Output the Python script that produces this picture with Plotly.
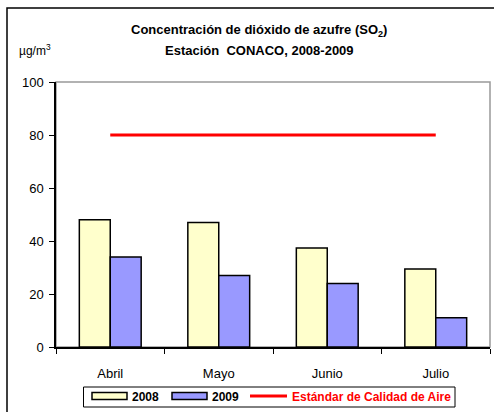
import plotly.graph_objects as go

categories = ["Abril", "Mayo", "Junio", "Julio"]
values_2008 = [48, 47, 37.4, 29.4]
values_2009 = [34, 27, 24, 11]
standard = [80, 80, 80, 80]
yticks = [0, 20, 40, 60, 80, 100]
legend_labels = ["2008", "2009", "Estándar de Calidad de Aire"]

W, H = 494, 412
L, R, T, B = 56, 4, 82, 65
pw, ph = W - L - R, H - T - B

def px(x):
    return (x - L) / pw

def py(y):
    return (H - B - y) / ph

C08, C09, CRED = "#FFFFCC", "#9999FF", "#FF0000"

fig = go.Figure()
fig.add_trace(go.Bar(x=categories, y=values_2008, name=legend_labels[0],
                     marker=dict(color=C08, line=dict(color="black", width=1.5))))
fig.add_trace(go.Bar(x=categories, y=values_2009, name=legend_labels[1],
                     marker=dict(color=C09, line=dict(color="black", width=1.5))))
fig.add_trace(go.Scatter(x=categories, y=standard, mode="lines", name=legend_labels[2],
                         line=dict(color=CRED, width=3)))

# custom legend (wide swatches, like the original)
shapes = [
    dict(type="rect", xref="paper", yref="paper", x0=0, x1=1, y0=0, y1=1,
         line=dict(color="#999999", width=1.5), layer="below"),
    dict(type="rect", xref="paper", yref="paper", x0=px(7), x1=px(496), y0=py(8), y1=py(414),
         line=dict(color="black", width=1.5), layer="below"),
    dict(type="rect", xref="paper", yref="paper", x0=px(83.5), x1=px(455), y0=py(387), y1=py(407),
         line=dict(color="black", width=1), fillcolor="white"),
    dict(type="rect", xref="paper", yref="paper", x0=px(92), x1=px(127), y0=py(392.5), y1=py(399.5),
         line=dict(color="black", width=1.5), fillcolor=C08),
    dict(type="rect", xref="paper", yref="paper", x0=px(172), x1=px(207), y0=py(392.5), y1=py(399.5),
         line=dict(color="black", width=1.5), fillcolor=C09),
    dict(type="line", xref="paper", yref="paper", x0=px(250), x1=px(287), y0=py(396), y1=py(396),
         line=dict(color=CRED, width=3)),
]

annotations = [
    dict(text="<b>Concentración de dióxido de azufre (SO<sub>2</sub>)</b>",
         xref="paper", yref="paper", x=px(259), y=py(30), xanchor="center", yanchor="middle",
         showarrow=False, font=dict(size=13)),
    dict(text="<b>Estación  CONACO, 2008-2009</b>",
         xref="paper", yref="paper", x=px(259), y=py(50), xanchor="center", yanchor="middle",
         showarrow=False, font=dict(size=13)),
    dict(text="µg/m<sup>3</sup>", xref="paper", yref="paper", x=px(17), y=py(50),
         xanchor="left", yanchor="middle", showarrow=False, font=dict(size=12)),
]
for lx, lab, col in zip([130, 210, 290], legend_labels, ["black", "black", CRED]):
    annotations.append(dict(text=f"<b>{lab}</b>", xref="paper", yref="paper", x=px(lx), y=py(397),
                            xanchor="left", yanchor="middle", showarrow=False,
                            font=dict(size=12, color=col)))

fig.update_layout(
    width=W, height=H,
    margin=dict(l=L, r=R, t=T, b=B, autoexpand=False),
    paper_bgcolor="white", plot_bgcolor="white",
    font=dict(family="Liberation Sans, Arial", size=13, color="black"),
    barmode="group", bargap=0.43, bargroupgap=0,
    showlegend=False,
    xaxis=dict(type="category", showline=True, linecolor="black", linewidth=1.5,
               ticks="outside", ticklen=5, tickcolor="black", tickson="boundaries",
               showgrid=False, ticklabelstandoff=14, range=[-0.5, 3.5]),
    yaxis=dict(range=[0, 100], tickvals=yticks, showline=True, linecolor="black", linewidth=1.5,
               ticks="outside", ticklen=5, tickcolor="black", showgrid=False, zeroline=False,
               ticklabelstandoff=3),
    shapes=shapes,
    annotations=annotations,
)

fig.write_html("out.html", config={"displayModeBar": False},
               post_script="document.body.style.margin='0';document.body.style.overflow='hidden';")
